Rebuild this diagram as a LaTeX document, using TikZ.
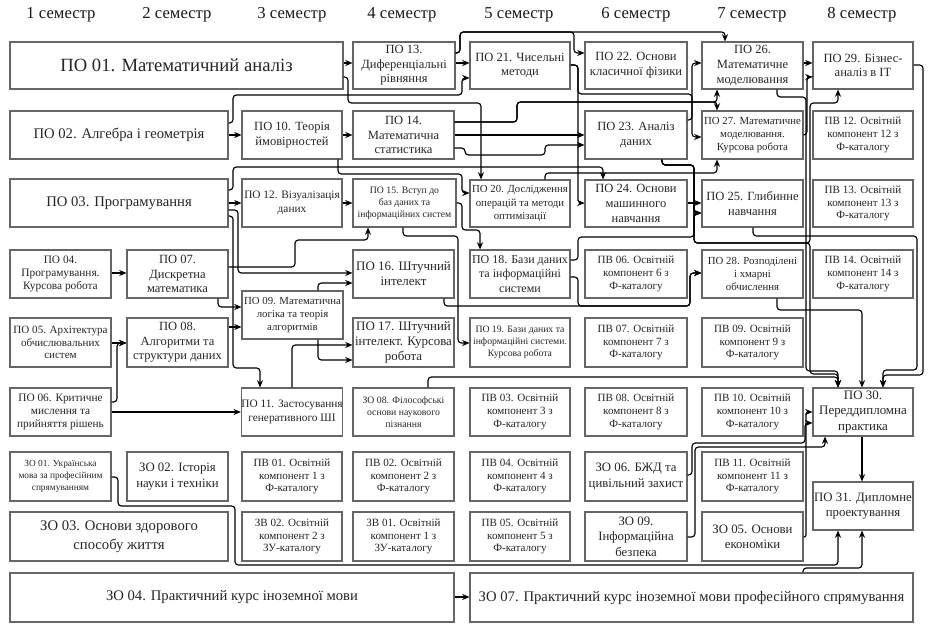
\documentclass[tikz,border=0pt]{standalone}
\usepackage{fontspec}
\setmainfont{Liberation Serif}
\newfontfamily\tnr{Liberation Serif}
\usetikzlibrary{arrows.meta}
\tikzset{
  box/.style={draw=black!60, line width=0.8pt, inner sep=0pt, align=center, text=black!85},
  conn/.style={draw=black, line width=0.85pt, rounded corners=2.5pt, -{Stealth[length=5.5pt,width=4.6pt]}},
  hdr/.style={font=\tnr\fontsize{12.5}{14}\selectfont, text=black!90},
  fbig/.style={font=\tnr\fontsize{14}{16}\selectfont},
  fbigb/.style={font=\tnr\fontsize{11}{14}\selectfont},
  fmed/.style={font=\tnr\fontsize{11}{13}\selectfont},
  fzz/.style={font=\tnr\fontsize{9.6}{11.5}\selectfont},
  flg/.style={font=\tnr\fontsize{9.7}{11.4}\selectfont},
  fstd/.style={font=\tnr\fontsize{9.4}{11}\selectfont},
  fst2/.style={font=\tnr\fontsize{9}{11}\selectfont},
  fsm/.style={font=\tnr\fontsize{8.5}{10}\selectfont},
  fsm2/.style={font=\tnr\fontsize{8.1}{10}\selectfont},
  fpv/.style={font=\tnr\fontsize{8.3}{9.6}\selectfont},
  ftiny/.style={font=\tnr\fontsize{7.3}{9}\selectfont},
  fzo/.style={font=\tnr\fontsize{7}{8.8}\selectfont},
}
\newcommand\mybox[7]{%
  \pgfmathsetmacro\mbw{(#4-#2)*0.75}%
  \pgfmathsetmacro\mbh{(#5-#3)*0.75}%
  \node[box,#6,minimum width=\mbw pt,minimum height=\mbh pt] (#1) at ({(#2+#4)/2},{(#3+#5)/2}) {#7};%
}
\begin{document}
\begin{tikzpicture}[x=0.75pt,y=-0.75pt]
\useasboundingbox[fill=white] (0,0) rectangle (941,630);
% headers
\node[hdr] (s1) at (61,15) {1 семестр};
\node[hdr] (s2) at (177,15) {2 семестр};
\node[hdr] (s3) at (292,15) {3 семестр};
\node[hdr] (s4) at (402,15) {4 семестр};
\node[hdr] (s5) at (519,15) {5 семестр};
\node[hdr] (s6) at (636,15) {6 семестр};
\node[hdr] (s7) at (752,15) {7 семестр};
\node[hdr] (s8) at (862,15) {8 семестр};
% row 1
\mybox{po01}{10}{42}{343}{89}{fbig}{ПО 01. Математичний аналіз}
\mybox{po13}{353}{42}{455}{89}{fstd}{ПО 13.\\Диференціальні\\рівняння}
\mybox{po21}{470}{42}{570}{89}{fstd}{ПО 21. Чисельні\\методи}
\mybox{po22}{585}{42}{687}{89}{fstd}{ПО 22. Основи\\класичної фізики}
\mybox{po26}{702}{42}{803}{89}{fstd}{ПО 26.\\Математичне\\моделювання}
\mybox{po29}{813}{42}{913}{89}{fstd}{ПО 29. Бізнес-\\аналіз в IT}
% row 2
\mybox{po02}{10}{111}{228}{159}{fmed}{ПО 02. Алгебра і геометрія}
\mybox{po10}{242}{111}{342}{159}{fstd}{ПО 10. Теорія\\ймовірностей}
\mybox{po14}{353}{111}{454}{159}{fstd}{ПО 14.\\Математична\\статистика}
\mybox{po23}{585}{111}{687}{159}{fstd}{ПО 23. Аналіз\\даних}
\mybox{po27}{702}{111}{803}{159}{fsm2}{ПО 27. Математичне\\моделювання.\\Курсова робота}
\mybox{pv12}{813}{111}{913}{159}{fpv}{ПВ 12. Освітній\\компонент 12 з\\Ф-каталогу}
% row 3
\mybox{po03}{10}{179}{228}{227}{fmed}{ПО 03. Програмування}
\mybox{po12}{242}{179}{342}{227}{fsm}{ПО 12. Візуалізація\\даних}
\mybox{po15}{353}{179}{456}{227}{ftiny}{ПО 15. Вступ до\\баз даних та\\інформаційних систем}
\mybox{po20}{470}{180}{570}{227}{fsm2}{ПО 20. Дослідження\\операцій та методи\\оптимізації}
\mybox{po24}{585}{180}{687}{227}{fstd}{ПО 24. Основи\\машинного\\навчання}
\mybox{po25}{702}{180}{803}{227}{fstd}{ПО 25. Глибинне\\навчання}
\mybox{pv13}{813}{180}{913}{227}{fpv}{ПВ 13. Освітній\\компонент 13 з\\Ф-каталогу}
% row 4
\mybox{po04}{10}{250}{111}{298}{fsm}{ПО 04.\\Програмування.\\Курсова робота}
\mybox{po07}{127}{250}{228}{298}{fstd}{ПО 07.\\Дискретна\\математика}
\mybox{po16}{353}{250}{454}{298}{flg}{ПО 16. Штучний\\інтелект}
\mybox{po18}{470}{250}{570}{298}{fst2}{ПО 18. Бази даних\\та інформаційні\\системи}
\mybox{pv06}{585}{250}{687}{298}{fpv}{ПВ 06. Освітній\\компонент 6 з\\Ф-каталогу}
\mybox{po28}{702}{250}{803}{298}{fsm2}{ПО 28. Розподілені\\і хмарні\\обчислення}
\mybox{pv14}{813}{250}{913}{298}{fpv}{ПВ 14. Освітній\\компонент 14 з\\Ф-каталогу}
\mybox{po09}{242}{291}{343}{339}{fsm2}{ПО 09. Математична\\логіка та теорія\\алгоритмів}
% row 5
\mybox{po05}{10}{318}{111}{367}{fpv}{ПО 05. Архітектура\\обчислювальних\\систем}
\mybox{po08}{127}{318}{228}{367}{fstd}{ПО 08.\\Алгоритми та\\структури даних}
\mybox{po17}{353}{318}{454}{367}{flg}{ПО 17. Штучний\\інтелект. Курсова\\робота}
\mybox{po19}{470}{318}{570}{367}{ftiny}{ПО 19. Бази даних та\\інформаційні системи.\\Курсова робота}
\mybox{pv07}{585}{318}{687}{367}{fpv}{ПВ 07. Освітній\\компонент 7 з\\Ф-каталогу}
\mybox{pv09}{702}{318}{803}{367}{fpv}{ПВ 09. Освітній\\компонент 9 з\\Ф-каталогу}
% row 6
\mybox{po06}{10}{388}{111}{436}{fsm}{ПО 06. Критичне\\мислення та\\прийняття рішень}
\mybox{po11}{242}{388}{342}{436}{fsm}{ПО 11. Застосування\\генеративного ШІ}
\mybox{zo08}{353}{388}{454}{436}{ftiny}{ЗО 08. Філософські\\основи наукового\\пізнання}
\mybox{pv03}{470}{388}{570}{436}{fpv}{ПВ 03. Освітній\\компонент 3 з\\Ф-каталогу}
\mybox{pv08}{585}{388}{687}{436}{fpv}{ПВ 08. Освітній\\компонент 8 з\\Ф-каталогу}
\mybox{pv10}{702}{388}{803}{436}{fpv}{ПВ 10. Освітній\\компонент 10 з\\Ф-каталогу}
\mybox{po30}{813}{388}{913}{436}{flg}{ПО 30.\\Переддипломна\\практика}
% row 7
\mybox{zo01}{10}{452}{111}{501}{fzo}{ЗО 01. Українська\\мова за професійним\\спрямуванням}
\mybox{zo02}{127}{452}{228}{501}{fzz}{ЗО 02. Історія\\науки і техніки}
\mybox{pv01}{242}{452}{342}{501}{fpv}{ПВ 01. Освітній\\компонент 1 з\\Ф-каталогу}
\mybox{pv02}{353}{452}{454}{501}{fpv}{ПВ 02. Освітній\\компонент 2 з\\Ф-каталогу}
\mybox{pv04}{470}{452}{570}{501}{fpv}{ПВ 04. Освітній\\компонент 4 з\\Ф-каталогу}
\mybox{zo06}{585}{452}{687}{501}{fzz}{ЗО 06. БЖД та\\цивільний захист}
\mybox{pv11}{702}{452}{803}{501}{fpv}{ПВ 11. Освітній\\компонент 11 з\\Ф-каталогу}
\mybox{po31}{813}{482}{913}{530}{fzz}{ПО 31. Дипломне\\проектування}
% row 8
\mybox{zo03}{10}{512}{228}{561}{fbigb}{ЗО 03. Основи здорового\\способу життя}
\mybox{zv02}{242}{512}{342}{561}{fpv}{ЗВ 02. Освітній\\компонент 2 з\\ЗУ-каталогу}
\mybox{zv01}{353}{512}{454}{561}{fpv}{ЗВ 01. Освітній\\компонент 1 з\\ЗУ-каталогу}
\mybox{pv05}{470}{512}{570}{561}{fpv}{ПВ 05. Освітній\\компонент 5 з\\Ф-каталогу}
\mybox{zo09}{585}{512}{687}{561}{fzz}{ЗО 09.\\Інформаційна\\безпека}
\mybox{zo05}{702}{512}{803}{561}{fzz}{ЗО 05. Основи\\економіки}
% row 9
\mybox{zo04}{10}{573}{454}{622}{fbigb}{ЗО 04. Практичний курс іноземної мови}
\mybox{zo07}{470}{573}{913}{622}{fbigb}{ЗО 07. Практичний курс іноземної мови професійного спрямування}
% connectors
\draw[conn] (po01.east |- 0,63) -- (po13.west |- 0,63);
\draw[conn] (po13.east |- 0,63) -- (po21.west |- 0,63);
\draw[conn] (po02.east |- 0,123) -- (233,123) -- (233,95) -- (462,95) -- (462,78) -- (po21.west |- 0,78);
\draw[conn] (po13.east |- 0,53) -- (460,53) -- (460,32) -- (574,32) -- (574,53) -- (po22.west |- 0,53);
\draw[conn] (po13.east |- 0,53) -- (460,53) -- (460,32) -- (725,32) -- (po26.north -| 725,0);
\draw[conn] (po01.east |- 0,77) -- (348,77) -- (348,103) -- (481,103) -- (po20.north -| 481,0);
\draw[conn] (po02.east |- 0,135) -- (po10.west |- 0,135);
\draw[conn] (po10.east |- 0,135) -- (po14.west |- 0,135);
\draw[conn] (po14.east |- 0,135) -- (po23.west |- 0,135);
\draw[conn] (po14.east |- 0,122) -- (517,122) -- (517,102) -- (717,102) -- (po26.south -| 717,0);
\draw[conn] (po14.east |- 0,122) -- (517,122) -- (517,102) -- (717,102) -- (po27.north -| 717,0);
\draw[conn] (po14.east |- 0,148) -- (465,148) -- (465,155) -- (545,155) -- (545,145) -- (po23.west |- 0,145);
\draw[conn] (po20.north -| 545,0) -- (545,173) -- (717,173) -- (po27.south -| 717,0);
\draw[conn] (po21.east |- 0,65) -- (578,65) -- (578,94) -- (692,94) -- (692,137) -- (po27.west |- 0,137);
\draw[conn] (po21.east |- 0,65) -- (578,65) -- (578,203) -- (po24.west |- 0,203);
\draw[conn] (po23.east |- 0,120) -- (692,120) -- (692,63) -- (po26.west |- 0,63);
\draw[conn] (po03.east |- 0,190) -- (233,190) -- (233,167) -- (603,167) -- (po24.north -| 603,0);
\draw[conn] (po03.east |- 0,203) -- (po12.west |- 0,203);
\draw[conn] (po12.east |- 0,203) -- (po15.west |- 0,203);
\draw[conn] (po10.south -| 338,0) -- (338,174) -- (462,174) -- (462,193) -- (po20.west |- 0,193);
\draw[conn] (po15.east |- 0,203) -- (462,203) -- (462,230) -- (480,230) -- (po18.north -| 480,0);
\draw[conn] (po15.south -| 403,0) -- (403,236) -- (458,236) -- (458,343) -- (po19.west |- 0,343);
\draw[conn] (po03.east |- 0,210) -- (238,210) -- (238,273) -- (po16.west |- 0,273);
\draw[conn] (po03.east |- 0,216) -- (233,216) -- (233,368) -- (260,368) -- (po11.north -| 260,0);
\draw[conn] (po07.east |- 0,267) -- (295,267) -- (295,240) -- (368,240) -- (po15.south -| 368,0);
\draw[conn] (po09.north -| 318,0) -- (318,283) -- (po16.west |- 0,283);
\draw[conn] (po09.south -| 318,0) -- (318,360) -- (po17.west |- 0,360);
\draw[conn] (po11.north -| 292,0) -- (292,345) -- (po17.west |- 0,345);
\draw[conn] (po07.south -| 218,0) -- (218,307) -- (po09.west |- 0,307);
\draw[conn] (po08.east |- 0,327) -- (po09.west |- 0,327);
\draw[conn] (po04.east |- 0,273) -- (po07.west |- 0,273);
\draw[conn] (po05.east |- 0,343) -- (po08.west |- 0,343);
\draw[conn] (po06.east |- 0,402) -- (117,402) -- (117,343) -- (po08.west |- 0,343);
\draw[conn] (po06.east |- 0,412) -- (po11.west |- 0,412);
\draw[conn] (po16.south -| 444,0) -- (444,306) -- (690,306) -- (690,273) -- (po28.west |- 0,273);
\draw[conn] (po18.east |- 0,277) -- (578,277) -- (578,306) -- (690,306) -- (690,273) -- (po28.west |- 0,273);
\draw[conn] (po18.east |- 0,260) -- (578,260) -- (578,237) -- (694,237) -- (694,213) -- (po25.west |- 0,213);
\draw[conn] (po23.south -| 662,0) -- (662,165) -- (694,165) -- (694,213) -- (po25.west |- 0,213);
\draw[conn] (po23.south -| 662,0) -- (662,165) -- (694,165) -- (694,243) -- (810,243) -- (810,103) -- (838,103) -- (po29.south -| 838,0);
\draw[conn] (po23.south -| 662,0) -- (662,165) -- (694,165) -- (694,243) -- (810,243) -- (810,374) -- (838,374) -- (po30.north -| 838,0);
\draw[conn] (po24.east |- 0,203) -- (po25.west |- 0,203);
\draw[conn] (po26.east |- 0,63) -- (po29.west |- 0,63);
\draw[conn] (po27.east |- 0,135) -- (807,135) -- (807,77) -- (po29.west |- 0,77);
\draw[conn] (po26.south -| 777,0) -- (777,97) -- (806,97) -- (806,371) -- (838,371) -- (po30.north -| 838,0);
\draw[conn] (po25.south -| 753,0) -- (753,236) -- (917,236) -- (917,370) -- (883,370) -- (po30.north -| 883,0);
\draw[conn] (po29.east |- 0,65) -- (923,65) -- (923,375) -- (883,375) -- (po30.north -| 883,0);
\draw[conn] (po28.south -| 777,0) -- (777,310) -- (862,310) -- (po30.north -| 862,0);
\draw[conn] (zo08.north -| 428,0) -- (428,377) -- (838,377) -- (po30.north -| 838,0);
\draw[conn] (zo06.east |- 0,475) -- (692,475) -- (692,443) -- (805,443) -- (805,423) -- (po30.west |- 0,423);
\draw[conn] (zo09.east |- 0,537) -- (695,537) -- (695,447) -- (825,447) -- (po30.south -| 825,0);
\draw[conn, rounded corners=1.5pt] (zo05.east |- 0,537) -- (806,537) -- (806,412) -- (po30.west |- 0,412);
\draw[conn] (po30.south -| 862,0) -- (po31.north -| 862,0);
\draw[conn] (zo07.north -| 803,0) -- (803,568) -- (862,568) -- (po31.south -| 862,0);
\draw[conn] (zo01.east |- 0,477) -- (118,477) -- (118,506) -- (235,506) -- (235,565) -- (838,565) -- (po31.south -| 838,0);
\draw[conn] (zo04.east |- 0,597) -- (zo07.west |- 0,597);
\end{tikzpicture}
\end{document}
